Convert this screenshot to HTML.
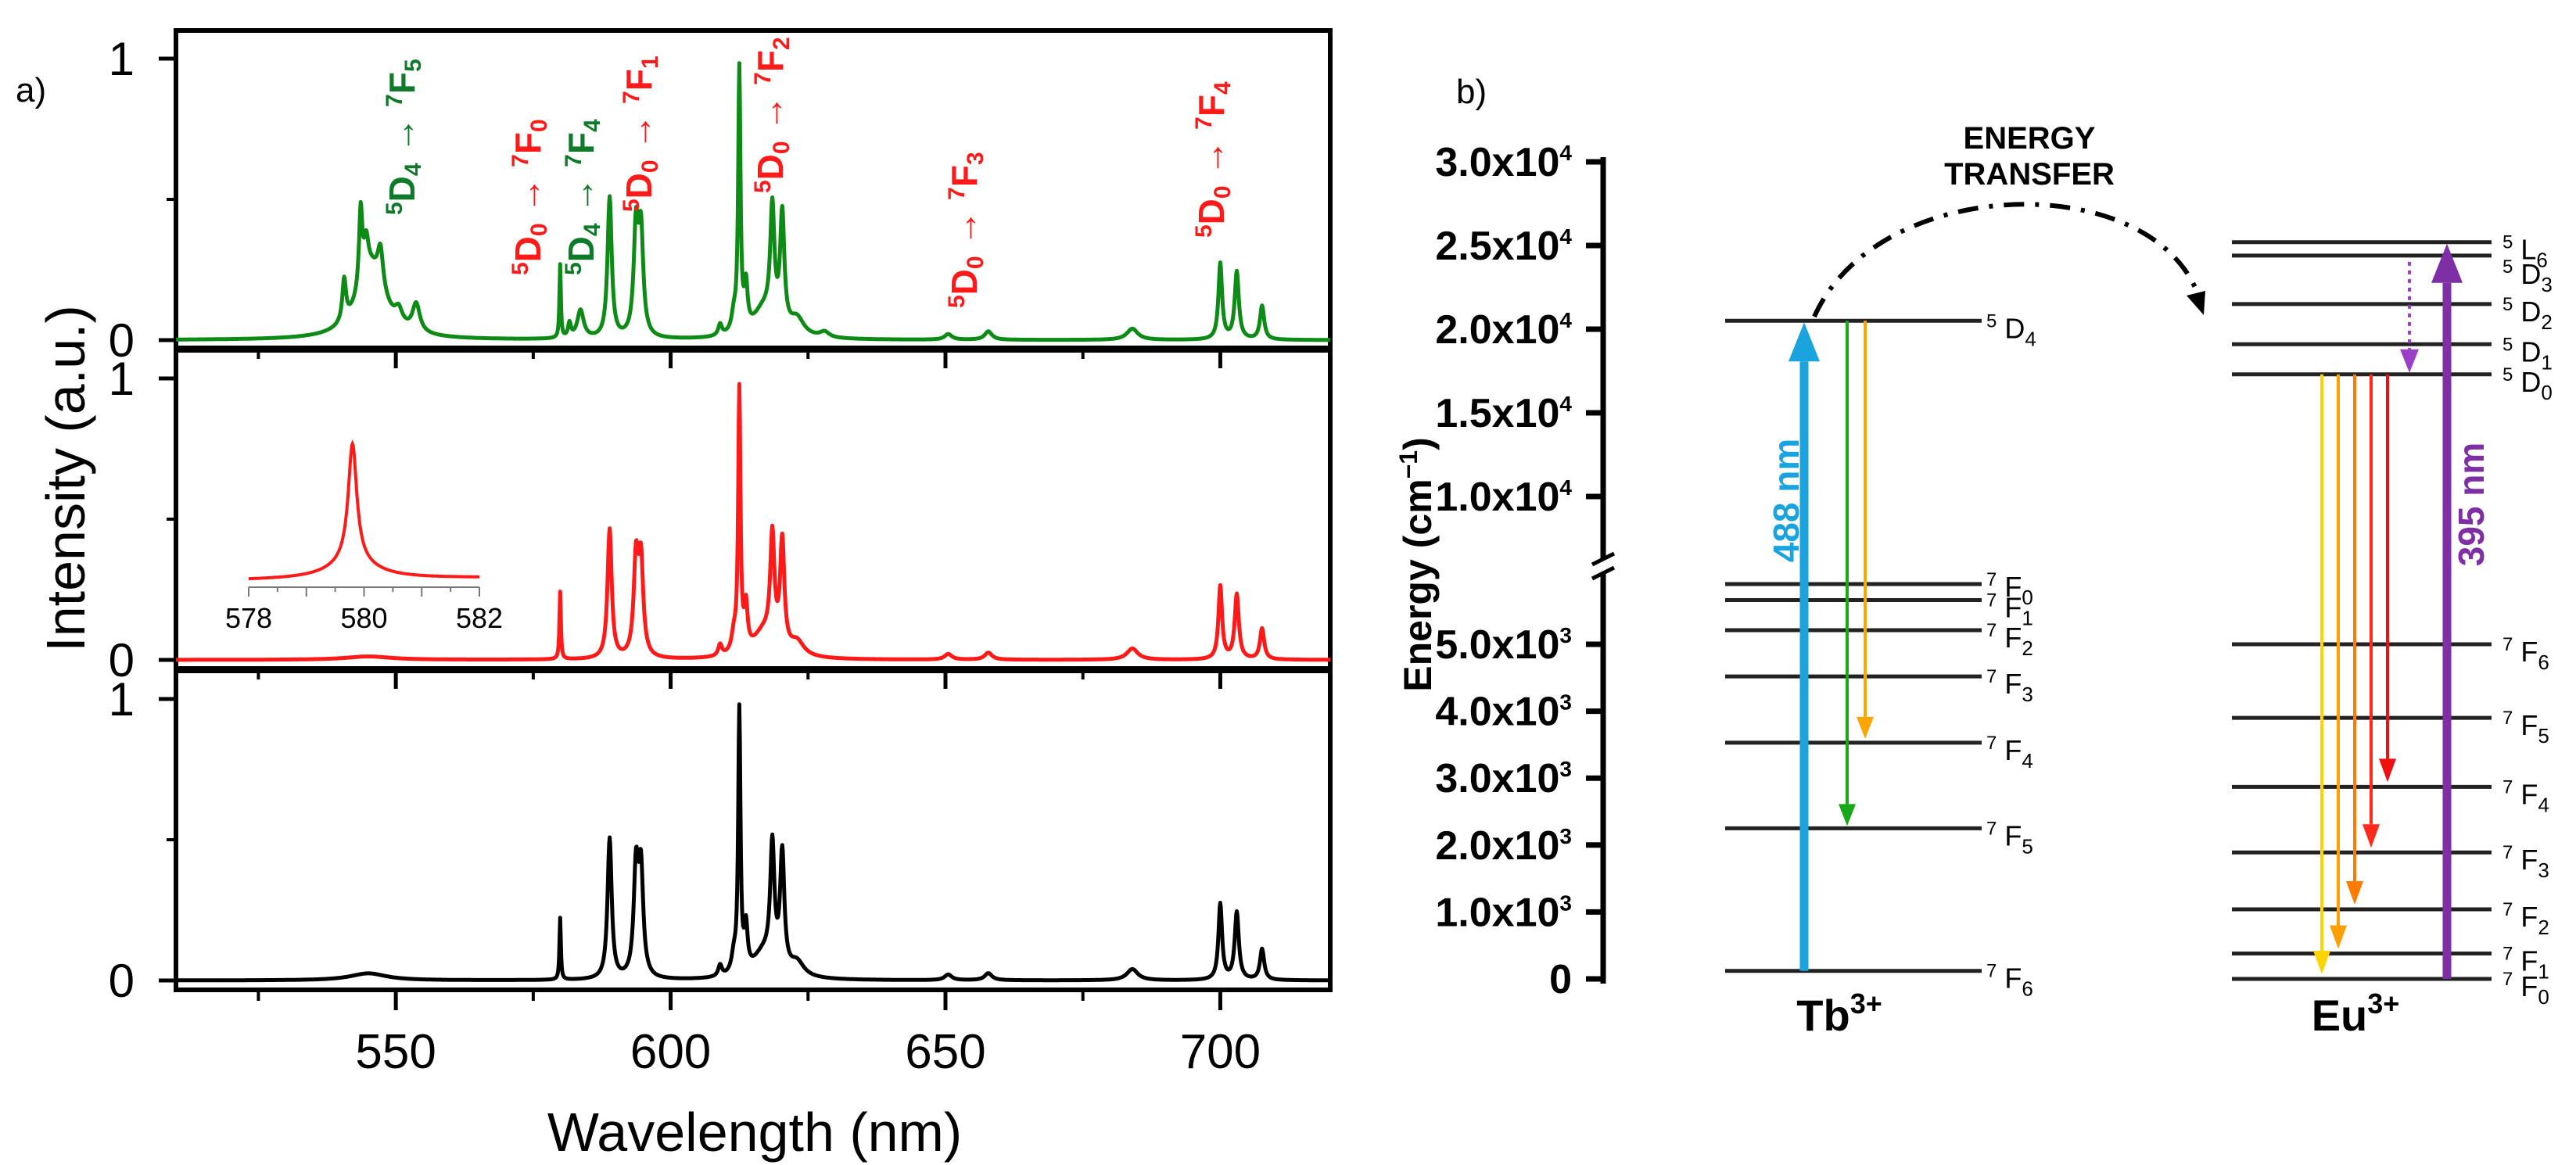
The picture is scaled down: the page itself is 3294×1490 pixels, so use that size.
<!DOCTYPE html>
<html><head><meta charset="utf-8">
<style>
html,body{margin:0;padding:0;background:#fff;}
svg{display:block;}
text{font-family:"Liberation Sans",Arial,sans-serif;}
.nar{font-family:"Liberation Sans Narrow","Liberation Sans",sans-serif;}
</style></head>
<body>
<svg id="fig" width="3294" height="1490" viewBox="0 0 3294 1490" xmlns="http://www.w3.org/2000/svg">
<g id="left"></g>
<g id="right"></g>
</svg>
<script>
// ---------- Spectra data (peak centre nm, height, half-width nm) ----------
const greenPeakPos = [545.5,540.6,543.6,544.6,547.2,550.5,553.7,579.9,581.6,583.6,588.9,593.7,594.6,609,611.5,612.5,613.7,617,618.5,620.3,623,628,650.5,657.8,684,700,703,707.6];
const greenPeakHeight = [0.25,0.15,0.28,0.12,0.14,0.05,0.1,0.26,0.05,0.1,0.5,0.38,0.36,0.04,0.06,0.93,0.15,0.1,0.4,0.4,0.06,0.02,0.02,0.03,0.04,0.27,0.24,0.12];
const greenPeakWidth = [3,0.4,0.35,0.5,0.6,0.8,0.8,0.15,0.3,0.7,0.45,0.5,0.5,0.4,0.5,0.25,0.35,2.5,0.45,0.45,1.5,1,0.8,0.8,1.2,0.4,0.45,0.45];

const redPeakPos = [545,579.9,588.9,593.7,594.6,609,611.5,612.5,613.7,617,618.5,620.3,623,650.5,657.8,684,700,703,707.6];
const redPeakHeight = [0.012,0.24,0.46,0.34,0.33,0.04,0.06,0.93,0.15,0.09,0.38,0.38,0.05,0.02,0.025,0.04,0.26,0.23,0.11];
const redPeakWidth = [5,0.15,0.45,0.5,0.5,0.4,0.5,0.25,0.35,2.5,0.45,0.45,1.5,0.8,0.8,1.2,0.4,0.45,0.45];

const blackPeakPos = [545,579.9,588.9,593.7,594.6,609,611.5,612.5,613.7,617,618.5,620.3,623,650.5,657.8,684,700,703,707.6];
const blackPeakHeight = [0.025,0.22,0.5,0.38,0.37,0.04,0.06,0.93,0.15,0.09,0.42,0.41,0.05,0.02,0.025,0.04,0.27,0.24,0.11];
const blackPeakWidth = [4,0.15,0.45,0.5,0.5,0.4,0.5,0.25,0.35,2.5,0.45,0.45,1.5,0.8,0.8,1.2,0.4,0.45,0.45];

const insetPeakPos = [579.8,579.8];
const insetPeakHeight = [0.88,0.12];
const insetPeakWidth = [0.09,0.5];

const xTickLabels = [550,600,650,700];
const xMinorTicks = [525,575,625,675];
const yTickLabels = [0,1];
const insetTickLabels = [578,580,582];

// ---------- Energy level data (cm-1) ----------
const tbLevelNames = ["5D4","7F0","7F1","7F2","7F3","7F4","7F5","7F6"];
const tbLevelEnergy = [20500,5900,5660,5210,4520,3530,2250,120];
const euLevelNames = ["5L6","5D3","5D2","5D1","5D0","7F6","7F5","7F4","7F3","7F2","7F1","7F0"];
const euLevelEnergy = [25200,24400,21500,19100,17300,5000,3900,2870,1890,1040,380,0];
const energyTicksHigh = [10000,15000,20000,25000,30000];
const energyTicksLow = [0,1000,2000,3000,4000,5000];
const euEmissionTargets = ["7F0","7F1","7F2","7F3","7F4"];
const euEmissionColors = ["#FFD500","#FFA000","#FF7A00","#FF2A1A","#EE1010"];

const NS="http://www.w3.org/2000/svg";
function mk(tag,attrs,parent){const e=document.createElementNS(NS,tag);for(const k in attrs)e.setAttribute(k,attrs[k]);parent.appendChild(e);return e;}

// ---------- Left panel ----------
const L=document.getElementById('left');
const X0=225,X1=1701;
const xScale=nm=>X0+(nm-510)*(X1-X0)/210;
const panels=[{top:39,bot:445},{top:448,bot:855},{top:858,bot:1266}];
function yS(p,v){const y1=p.top+36,y0=p.top+396;return y0+(y1-y0)*v;}
function spec(pos,h,w,nm){let s=0;for(let i=0;i<pos.length;i++){const d=(nm-pos[i])/w[i];s+=h[i]/(1+d*d);}return s;}
const series=[[greenPeakPos,greenPeakHeight,greenPeakWidth,"#0E8A16","green-spectrum"],[redPeakPos,redPeakHeight,redPeakWidth,"#FF1A1A","red-spectrum"],[blackPeakPos,blackPeakHeight,blackPeakWidth,"#000","black-spectrum"]];
panels.forEach((p,i)=>{
  const r=mk('rect',{x:X0,y:p.top,width:X1-X0,height:p.bot-p.top,fill:'none',stroke:'#000','stroke-width':6},L);
  
  
  yTickLabels.forEach(v=>{
    const y=yS(p,v);
    const t=mk('line',{x1:X0-22,x2:X0,y1:y,y2:y,stroke:'#000','stroke-width':5},L);
    
    
    const tx=mk('text',{x:172,y:y+21,'font-size':60,'text-anchor':'end'},L);
    tx.textContent=v;
    
    
  });
  const ym=yS(p,0.5);
  mk('line',{x1:X0-12,x2:X0,y1:ym,y2:ym,stroke:'#000','stroke-width':4},L);
  xTickLabels.forEach(nm=>{const x=xScale(nm);mk('line',{x1:x,x2:x,y1:p.bot,y2:p.bot+26,stroke:'#000','stroke-width':5},L);});
  xMinorTicks.forEach(nm=>{const x=xScale(nm);mk('line',{x1:x,x2:x,y1:p.bot,y2:p.bot+14,stroke:'#000','stroke-width':4},L);});
  const [pos,h,w,col,name]=series[i];
  let d='';
  for(let k=0;k<=2100;k++){const nm=510+k*0.1;const v=spec(pos,h,w,nm);d+=(k?'L':'M')+xScale(nm).toFixed(1)+','+yS(p,v).toFixed(1);}
  const pa=mk('path',{d:d,fill:'none',stroke:col,'stroke-width':5,'stroke-linejoin':'round'},L);
  
  
});
xTickLabels.forEach(nm=>{
  const t=mk('text',{x:xScale(nm),y:1366,'font-size':62,'text-anchor':'middle'},L);
  t.textContent=nm;
  
  
});
let t=mk('text',{x:965,y:1472,'font-size':70,'text-anchor':'middle'},L);t.textContent='Wavelength (nm)';


t=mk('text',{x:0,y:0,'font-size':70,'text-anchor':'middle',transform:'translate(108,612) rotate(-90)'},L);t.textContent='Intensity (a.u.)';


t=mk('text',{x:20,y:130,'font-size':44},L);t.textContent='a)';



// annotations
const annots=[[514,275,'#0E7A2A','4','5'],[675,352,'#FF1A1A','0','0'],[743,352,'#0E7A2A','4','4'],[817,271,'#FF1A1A','0','1'],[985,247,'#FF1A1A','0','2'],[1233,394,'#FF1A1A','0','3'],[1549,304,'#FF1A1A','0','4']];
annots.forEach(a=>{
  const g=mk('text',{x:0,y:0,'font-size':46,'font-weight':'bold',fill:a[2],transform:`translate(${a[0]+16},${a[1]}) rotate(-90)`},L);
  g.innerHTML=`<tspan font-size="30" dy="-16">5</tspan><tspan dy="16">D</tspan><tspan font-size="30" dy="8">${a[3]}</tspan><tspan dy="-8"> → </tspan><tspan font-size="30" dy="-16">7</tspan><tspan dy="16">F</tspan><tspan font-size="30" dy="8">${a[4]}</tspan>`;
  
  
});

// inset
const IX0=318,IX1=613,IY0=746,IH=173;
const ixS=nm=>IX0+(nm-578)*(IX1-IX0)/4;
mk('line',{x1:IX0,x2:IX1,y1:IY0+5,y2:IY0+5,stroke:'#777','stroke-width':2},L);
for(let k=0;k<=8;k++){const x=ixS(578+k*0.5);mk('line',{x1:x,x2:x,y1:IY0+5,y2:IY0+(k%2?11:17),stroke:'#777','stroke-width':2},L);}
insetTickLabels.forEach(nm=>{
  const tx=mk('text',{x:ixS(nm),y:IY0+57,'font-size':36,'text-anchor':'middle'},L);tx.textContent=nm;
  
  
});
{let d='';for(let k=0;k<=400;k++){const nm=578+k*0.01;const v=spec(insetPeakPos,insetPeakHeight,insetPeakWidth,nm);d+=(k?'L':'M')+ixS(nm).toFixed(1)+','+(IY0-4-v*IH+ (k/400)*(-3)).toFixed(1);}
const ip=mk('path',{d:d,fill:'none',stroke:'#FF1A1A','stroke-width':4},L);

}

// ---------- Right panel ----------
const R=document.getElementById('right');
const AX=2050;
function eY(E){ if(E>=8000) return 635-(E-10000)*(107/5000); return 1252-E*0.0856; }
mk('line',{x1:AX,x2:AX,y1:201,y2:716,stroke:'#000','stroke-width':7},R);
mk('line',{x1:AX,x2:AX,y1:734,y2:1258,stroke:'#000','stroke-width':7},R);
mk('line',{x1:AX-14,x2:AX+14,y1:722,y2:708,stroke:'#000','stroke-width':5},R);
mk('line',{x1:AX-14,x2:AX+14,y1:740,y2:726,stroke:'#000','stroke-width':5},R);
function eLabel(v){const ex=Math.floor(Math.log10(v)+1e-9);const m=(v/Math.pow(10,ex)).toFixed(1);return `${m}x10<tspan font-size="28" dy="-20">${ex}</tspan>`;}
energyTicksHigh.concat(energyTicksLow).forEach(v=>{
  const y=eY(v);
  mk('line',{x1:AX-22,x2:AX,y1:y,y2:y,stroke:'#000','stroke-width':7},R);
  const tx=mk('text',{x:2010,y:y+18,'font-size':52,'font-weight':'bold','text-anchor':'end',class:'nar'},R);
  tx.innerHTML=v===0?'0':eLabel(v);
  
  
});
t=mk('text',{x:0,y:0,'font-size':50,'font-weight':'bold','text-anchor':'middle',transform:'translate(1830,722) rotate(-90)'},R);
t.innerHTML='Energy (cm<tspan font-size="32" dy="-18">−1</tspan><tspan dy="18">)</tspan>';


t=mk('text',{x:1862,y:132,'font-size':44},R);t.textContent='b)';



function lvLabel(x,y,name){
  const tx=mk('text',{x:x,y:y+22,'font-size':36,class:'nar'},R);
  tx.innerHTML=`<tspan font-size="24" dy="-14">${name[0]}</tspan><tspan dy="14"> ${name[1]}</tspan><tspan font-size="26" dy="10">${name[2]}</tspan>`;
  
  
}
tbLevelNames.forEach((n,i)=>{
  const y=eY(tbLevelEnergy[i]);
  const l=mk('line',{x1:2206,x2:2534,y1:y,y2:y,stroke:'#222','stroke-width':5},R);
  
  
  lvLabel(2540,y+(n==='7F0'?-6:0),n);
});
euLevelNames.forEach((n,i)=>{
  const y=eY(euLevelEnergy[i]);
  const l=mk('line',{x1:2854,x2:3186,y1:y,y2:y,stroke:'#222','stroke-width':5},R);
  
  
  lvLabel(3200,y+(n==='5D3'?14:0),n);
});
function arrow(x,y1,y2,col,w,hw,hl,name,dash){
  const dir=y2>y1?1:-1;
  const ln=mk('line',{x1:x,x2:x,y1:y1,y2:y2-dir*hl,stroke:col,'stroke-width':w},R);
  if(dash)ln.setAttribute('stroke-dasharray',dash);
  
  
  mk('path',{d:`M${x-hw},${y2-dir*hl} L${x+hw},${y2-dir*hl} L${x},${y2} Z`,fill:col},R);
}
const yTb5D4=eY(tbLevelEnergy[0]);
arrow(2307,eY(tbLevelEnergy[7]),yTb5D4+2,'#1AA3DC',11,20,50,'excitation-arrow-488');
arrow(2362,yTb5D4,eY(tbLevelEnergy[6])-3,'#18A818',4,11,28,'tb-emission-7F5');
arrow(2385,yTb5D4,eY(tbLevelEnergy[5])-5,'#FFA500',4,11,28,'tb-emission-7F4');
t=mk('text',{x:0,y:0,'font-size':46,'font-weight':'bold',fill:'#1AA3DC','text-anchor':'middle',transform:'translate(2300,640) rotate(-90)'},R);t.textContent='488 nm';


const yEu5D0=eY(euLevelEnergy[4]);
euEmissionTargets.forEach((n,i)=>{
  const E=euLevelEnergy[euLevelNames.indexOf(n)];
  arrow(2969+i*21,yEu5D0,eY(E)-6,euEmissionColors[i],4,11,30,'eu-emission-'+n);
});
arrow(3129,eY(euLevelEnergy[11]),eY(euLevelEnergy[0])+2,'#7E2FA6',11,20,50,'excitation-arrow-395');
arrow(3081,eY(euLevelEnergy[1])+8,yEu5D0-2,'#9A3FC8',4,12,30,'nonradiative-relaxation','5,6');
t=mk('text',{x:0,y:0,'font-size':46,'font-weight':'bold',fill:'#7E2FA6','text-anchor':'middle',transform:'translate(3176,645) rotate(-90)'},R);t.textContent='395 nm';


// energy transfer
const et=mk('path',{d:'M2320,405 C2400,225 2740,215 2808,370',fill:'none',stroke:'#000','stroke-width':6,'stroke-dasharray':'26,14,5,14'},R);


mk('path',{d:'M2796,378 L2820,372 L2818,403 Z',fill:'#000'},R);
t=mk('text',{x:2595,y:190,'font-size':40,'font-weight':'bold','text-anchor':'middle',class:'nar'},R);t.textContent='ENERGY';


t=mk('text',{x:2595,y:236,'font-size':40,'font-weight':'bold','text-anchor':'middle',class:'nar'},R);t.textContent='TRANSFER';


t=mk('text',{x:2352,y:1318,'font-size':56,'font-weight':'bold','text-anchor':'middle',class:'nar'},R);t.innerHTML='Tb<tspan font-size="36" dy="-22">3+</tspan>';


t=mk('text',{x:3012,y:1318,'font-size':56,'font-weight':'bold','text-anchor':'middle',class:'nar'},R);t.innerHTML='Eu<tspan font-size="36" dy="-22">3+</tspan>';


</script>
</body></html>
